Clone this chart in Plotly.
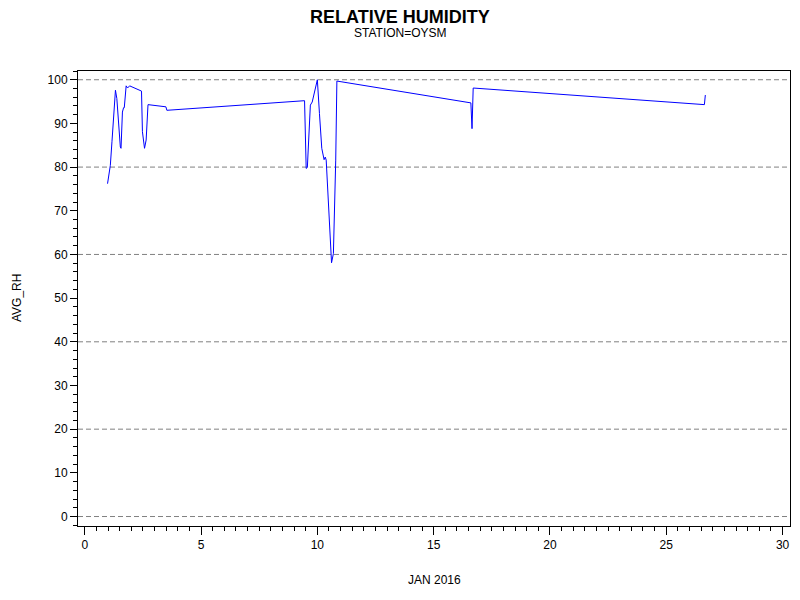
import plotly.graph_objects as go

# Дни января 2016 и средняя влажность
day = [0.98, 1.02, 1.10, 1.17, 1.24, 1.32, 1.38, 1.45, 1.53, 1.56, 1.62, 1.67, 1.70,
       1.78, 1.84, 1.93, 2.44, 2.48, 2.53, 2.57, 2.64, 2.72, 3.49, 3.53,
       9.45, 9.52, 9.57, 9.70, 9.78, 10.00, 10.09, 10.19, 10.29, 10.34, 10.38,
       10.49, 10.61, 10.69, 10.79, 10.84, 16.60, 16.65, 16.70, 26.64, 26.68]
avg_rh = [76.2, 78.1, 80.4, 85.8, 91.1, 97.6, 95.7, 89.6, 84.6, 84.3, 92.6, 93.6, 93.6,
          98.6, 98.1, 98.6, 97.4, 88.1, 85.0, 84.3, 86.2, 94.3, 93.8, 93.0,
          95.2, 79.7, 79.9, 94.2, 94.9, 100.0, 92.3, 84.3, 81.7, 82.3, 81.6,
          69.4, 58.1, 60.2, 81.6, 99.7, 94.7, 88.8, 98.1, 94.3, 96.5]

grid_levels = [0, 20, 40, 60, 80, 100]

# браузер добавляет отступ body в 8px — компенсируем
OFF = 8
L, T = 78 - OFF, 71 - OFF
R = 800 - (790 - OFF)
B = 600 - (526 - OFF)

fig = go.Figure()

# Линии сетки (пунктир)
for g in grid_levels:
    fig.add_hline(y=g, line=dict(color="#808080", width=1, dash="5px,3px"), layer="below")

fig.add_trace(go.Scatter(
    x=day, y=avg_rh,
    mode="lines",
    line=dict(color="#0000ff", width=1),
    showlegend=False
))

axis_font = dict(family="Arial, Liberation Sans", size=12, color="black")

fig.update_layout(
    width=800,
    height=600,
    margin=dict(l=L, r=R, t=T, b=B),
    paper_bgcolor="white",
    plot_bgcolor="white",
    font=axis_font,
    xaxis=dict(
        range=[-0.29, 30.32],
        tick0=0, dtick=5,
        ticks="outside", ticklen=8, tickcolor="black", tickwidth=1,
        minor=dict(dtick=0.5, ticks="outside", ticklen=4, tickcolor="black"),
        showline=True, linecolor="black", linewidth=1, mirror=True,
        showgrid=False, zeroline=False,
        tickfont=axis_font,
    ),
    yaxis=dict(
        range=[-2.17, 102.0],
        tick0=0, dtick=10,
        ticks="outside", ticklen=7, tickcolor="black", tickwidth=1,
        minor=dict(dtick=2, ticks="outside", ticklen=4, tickcolor="black"),
        showline=True, linecolor="black", linewidth=1, mirror=True,
        showgrid=False, zeroline=False,
        tickfont=axis_font,
    ),
)

# Подписи: позиции в пикселях эталона (заголовок чуть ниже, чтобы не обрезался)
labels = [
    ("<b>RELATIVE HUMIDITY</b>", 400, 17, 18, 0),
    ("STATION=OYSM", 400, 33, 12, 0),
    ("JAN 2016", 434, 580, 12, 0),
    ("AVG_RH", 17, 298, 12, -90),
]
w_plot = 800 - L - R
h_plot = 600 - T - B
for text, px, py, size, angle in labels:
    fig.add_annotation(
        text=text,
        x=(px - OFF - L) / w_plot, y=(600 - B - (py - OFF)) / h_plot,
        xref="paper", yref="paper", xanchor="center", yanchor="middle",
        showarrow=False, textangle=angle,
        font=dict(family="Arial, Liberation Sans", size=size, color="black"),
    )

fig.write_html("out.html")
